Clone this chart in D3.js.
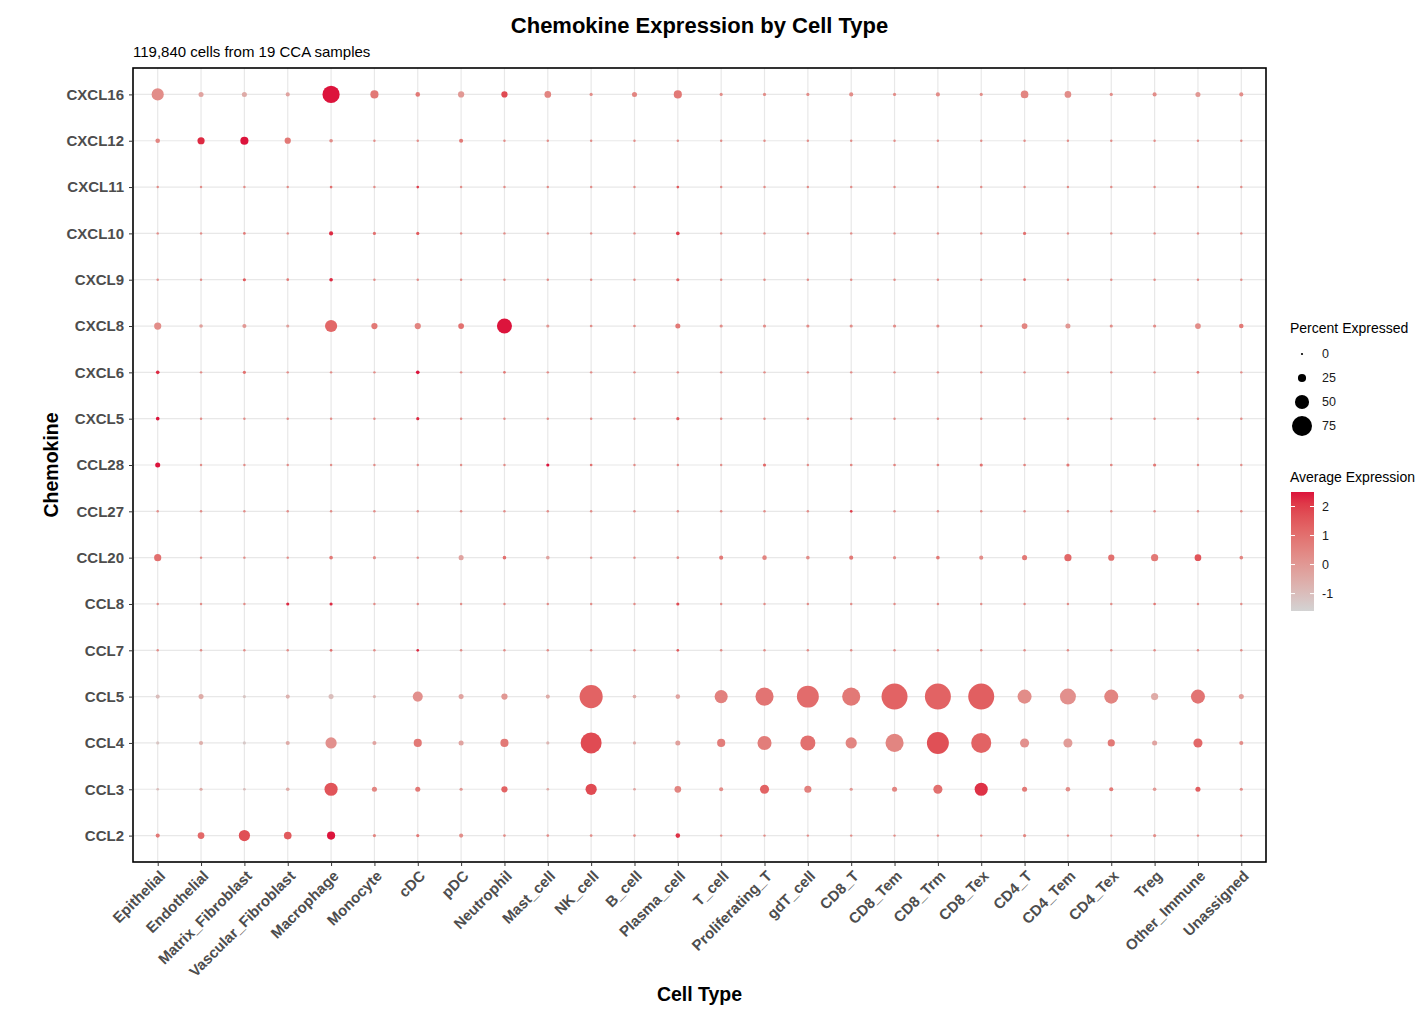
<!DOCTYPE html>
<head>
  <meta charset="utf-8">
  <script src="https://d3js.org/d3.v7.min.js"></script>
  <style>
    body { margin: 0; background: #fff; font-family: "Liberation Sans", Arial, sans-serif; }
  </style>
</head>
<body>
  <svg width="1419" height="1009"></svg>
  <script>
var cellTypes = ["Epithelial", "Endothelial", "Matrix_Fibroblast", "Vascular_Fibroblast", "Macrophage",
  "Monocyte", "cDC", "pDC", "Neutrophil", "Mast_cell", "NK_cell", "B_cell", "Plasma_cell", "T_cell",
  "Proliferating_T", "gdT_cell", "CD8_T", "CD8_Tem", "CD8_Trm", "CD8_Tex", "CD4_T", "CD4_Tem",
  "CD4_Tex", "Treg", "Other_Immune", "Unassigned"];

var chemokines = ["CXCL16", "CXCL12", "CXCL11", "CXCL10", "CXCL9", "CXCL8", "CXCL6", "CXCL5",
  "CCL28", "CCL27", "CCL20", "CCL8", "CCL7", "CCL5", "CCL4", "CCL3", "CCL2"];

// percent expressed, one row per chemokine (same order as chemokines), columns = cellTypes
var pctExpressed = [
  [42, 12, 12, 8, 63, 25, 10, 17, 17, 19, 4, 12, 25, 4, 4, 4, 8, 4, 8, 4, 23, 19, 4, 8, 12, 8],   // CXCL16
  [10, 21, 25, 17, 6, 1, 1, 8, 1, 1, 1, 1, 1, 1, 1, 1, 1, 1, 1, 1, 1, 1, 1, 1, 1, 1],             // CXCL12
  [1, 1, 1, 1, 2, 1, 2, 1, 1, 1, 1, 1, 2, 1, 1, 1, 1, 1, 1, 1, 1, 1, 1, 1, 1, 1],                 // CXCL11
  [1, 1, 2, 1, 8, 4, 4, 1, 1, 1, 1, 1, 6, 1, 1, 1, 1, 1, 1, 1, 4, 1, 1, 1, 1, 1],                 // CXCL10
  [1, 1, 4, 2, 6, 1, 1, 1, 1, 1, 1, 1, 4, 1, 1, 1, 1, 1, 1, 1, 2, 1, 1, 1, 1, 1],                 // CXCL9
  [21, 6, 8, 4, 42, 17, 17, 15, 54, 4, 2, 2, 12, 4, 4, 4, 4, 4, 4, 2, 15, 12, 4, 4, 15, 10],      // CXCL8
  [6, 1, 4, 1, 1, 1, 6, 1, 2, 1, 1, 1, 1, 1, 1, 1, 1, 1, 1, 1, 1, 1, 1, 1, 2, 1],                 // CXCL6
  [6, 1, 1, 1, 1, 1, 4, 1, 1, 1, 1, 1, 4, 1, 1, 1, 1, 1, 1, 1, 1, 1, 1, 1, 1, 1],                 // CXCL5
  [12, 1, 1, 1, 1, 1, 1, 1, 1, 4, 2, 1, 1, 1, 4, 1, 2, 2, 2, 4, 2, 4, 2, 4, 1, 1],                // CCL28
  [1, 1, 1, 1, 1, 1, 1, 1, 1, 1, 1, 1, 1, 1, 1, 1, 2, 1, 1, 1, 1, 1, 1, 1, 1, 1],                 // CCL27
  [21, 1, 1, 1, 6, 4, 1, 12, 6, 6, 1, 1, 2, 8, 10, 6, 8, 4, 6, 8, 12, 21, 17, 21, 19, 6],         // CCL20
  [1, 1, 1, 4, 4, 1, 1, 1, 1, 1, 1, 1, 4, 1, 1, 1, 1, 1, 1, 1, 1, 1, 1, 2, 1, 1],                 // CCL8
  [1, 1, 1, 1, 2, 1, 2, 1, 1, 1, 1, 1, 2, 1, 1, 1, 1, 1, 1, 1, 1, 1, 1, 1, 1, 1],                 // CCL7
  [8, 12, 4, 8, 12, 4, 33, 12, 17, 8, 88, 6, 10, 46, 67, 83, 67, 100, 100, 100, 50, 58, 50, 21, 50, 12], // CCL5
  [4, 8, 4, 8, 38, 8, 25, 12, 25, 4, 79, 4, 12, 25, 50, 54, 38, 67, 83, 75, 29, 29, 21, 12, 29, 8],     // CCL4
  [2, 4, 2, 6, 46, 12, 12, 4, 17, 2, 38, 2, 19, 8, 29, 21, 4, 12, 29, 46, 12, 10, 8, 6, 12, 4],         // CCL3
  [8, 19, 38, 23, 25, 4, 4, 8, 2, 2, 2, 2, 10, 1, 1, 1, 1, 1, 1, 1, 4, 1, 1, 4, 1, 1]                   // CCL2
];

// scaled average expression, same layout
var avgExpression = [
  [0.3, -0.3, -0.5, -0.3, 2.5, 0.8, 0.8, 0.0, 1.8, 0.5, 0.3, 0.5, 0.8, 0.3, 0.3, 0.3, 0.3, 0.3, 0.3, 0.3, 0.5, 0.3, 0.3, 0.3, 0.0, 0.3],
  [0.5, 2.3, 2.5, 0.8, 0.3, 0.3, 0.3, 0.8, 0.3, 0.3, 0.3, 0.3, 0.3, 0.3, 0.3, 0.3, 0.3, 0.3, 0.3, 0.3, 0.3, 0.3, 0.3, 0.3, 0.3, 0.3],
  [0.3, 0.3, 0.3, 0.3, 1.0, 0.3, 2.0, 0.3, 0.3, 0.3, 0.3, 0.3, 1.5, 0.3, 0.3, 0.3, 0.3, 0.3, 0.3, 0.3, 0.3, 0.3, 0.3, 0.3, 0.3, 0.3],
  [0.3, 0.3, 0.8, 0.3, 2.3, 1.0, 1.5, 0.3, 0.3, 0.3, 0.3, 0.3, 2.0, 0.3, 0.3, 0.3, 0.3, 0.3, 0.3, 0.3, 1.0, 0.3, 0.3, 0.3, 0.3, 0.3],
  [0.3, 0.3, 1.5, 0.8, 2.3, 0.3, 0.3, 0.3, 0.3, 0.3, 0.3, 0.3, 1.3, 0.3, 0.3, 0.3, 0.3, 0.3, 0.3, 0.3, 1.0, 0.3, 0.3, 0.3, 0.3, 0.3],
  [0.3, -0.2, 0.0, -0.2, 1.2, 0.8, 0.5, 1.0, 2.5, 0.0, 0.3, 0.3, 0.8, 0.3, 0.3, 0.3, 0.3, 0.3, 0.3, 0.3, 0.5, 0.0, 0.3, 0.3, 0.3, 0.8],
  [2.3, 0.3, 1.0, 0.3, 0.3, 0.3, 2.5, 0.3, 0.8, 0.3, 0.3, 0.3, 0.3, 0.3, 0.3, 0.3, 0.3, 0.3, 0.3, 0.3, 0.3, 0.3, 0.3, 0.3, 0.8, 0.3],
  [2.5, 0.3, 0.3, 0.3, 0.3, 0.3, 2.3, 0.3, 0.3, 0.3, 0.3, 0.3, 1.5, 0.3, 0.3, 0.3, 0.3, 0.3, 0.3, 0.3, 0.3, 0.3, 0.3, 0.3, 0.3, 0.3],
  [2.5, 0.3, 0.3, 0.3, 0.3, 0.3, 0.3, 0.3, 0.3, 2.5, 1.0, 0.3, 0.3, 0.3, 1.2, 0.3, 0.5, 0.5, 0.5, 1.0, 0.5, 0.8, 0.5, 0.8, 0.3, 0.3],
  [0.3, 0.3, 0.3, 0.3, 0.3, 0.3, 0.3, 0.3, 0.3, 0.3, 0.3, 0.3, 0.3, 0.3, 0.3, 0.3, 2.0, 0.3, 0.3, 0.3, 0.3, 0.3, 0.3, 0.3, 0.3, 0.3],
  [1.0, 0.3, 0.3, 0.3, 0.8, 0.3, 0.3, -0.3, 1.0, -0.3, 0.3, 0.3, 0.3, 0.8, 0.5, 0.3, 0.8, 0.3, 0.8, 0.3, 0.8, 1.2, 1.0, 0.8, 1.6, 0.5],
  [0.3, 0.3, 0.3, 2.3, 2.3, 0.3, 0.3, 0.3, 0.3, 0.3, 0.3, 0.3, 1.8, 0.3, 0.3, 0.3, 0.3, 0.3, 0.3, 0.3, 0.3, 0.3, 0.3, 0.8, 0.3, 0.3],
  [0.3, 0.3, 0.3, 0.3, 1.0, 0.3, 2.3, 0.3, 0.3, 0.3, 0.3, 0.3, 1.5, 0.3, 0.3, 0.3, 0.3, 0.3, 0.3, 0.3, 0.3, 0.3, 0.3, 0.3, 0.3, 0.3],
  [-1.0, -0.5, -1.2, -0.7, -1.0, -0.8, 0.2, -0.3, 0.0, -0.5, 1.3, -0.5, -0.3, 0.6, 0.9, 1.1, 0.8, 1.3, 1.3, 1.4, 0.3, 0.2, 0.5, -0.5, 0.9, -0.1],
  [-1.2, -0.6, -1.3, -0.5, 0.2, -0.3, 0.8, -0.3, 0.8, -0.8, 1.8, -0.5, -0.2, 0.7, 0.7, 1.0, 0.5, 0.5, 1.7, 1.3, 0.2, -0.1, 0.8, -0.3, 1.2, 0.3],
  [-1.0, -0.5, -1.0, -0.5, 1.6, 0.5, 0.8, 0.0, 1.3, -0.5, 1.8, -0.3, 0.5, 0.3, 1.3, 0.6, 0.0, 0.5, 1.0, 2.2, 0.8, 0.3, 0.8, 0.0, 1.4, 0.3],
  [0.8, 1.2, 1.7, 1.5, 2.5, 0.5, 0.8, 0.3, 0.3, 0.3, 0.3, 0.3, 2.2, 0.3, 0.3, 0.3, 0.3, 0.3, 0.3, 0.3, 0.5, 0.3, 0.3, 0.3, 0.3, 0.3]
];

var sizeBreaks = [0, 25, 50, 75];
var colorBreaks = [2, 1, 0, -1];
var expRange = [-1.6, 2.5];

var svg = d3.select("svg");
var panel = {left: 133, right: 1266, top: 68, bottom: 862};

var x = d3.scalePoint().domain(cellTypes).range([panel.left, panel.right]).padding(0.57);
var y = d3.scalePoint().domain(chemokines).range([panel.top, panel.bottom]).padding(0.57);
var r = d3.scaleLinear().domain([0, 100]).range([1.1, 13]);
var color = d3.scaleLinear().domain(expRange).range(["#D3D3D3", "#DC143C"])
    .interpolate(d3.interpolateLab).clamp(true);

var points = [];
chemokines.forEach(function(c, i) {
  cellTypes.forEach(function(t, j) {
    points.push({gene: c, cell: t, pct: pctExpressed[i][j], avg: avgExpression[i][j]});
  });
});

// grid
var g = svg.append("g");
g.selectAll(".vgrid").data(cellTypes).enter().append("line")
    .attr("x1", function(d) { return x(d); }).attr("x2", function(d) { return x(d); })
    .attr("y1", panel.top).attr("y2", panel.bottom)
    .attr("stroke", "#E8E8E8").attr("stroke-width", 1.2);
g.selectAll(".hgrid").data(chemokines).enter().append("line")
    .attr("y1", function(d) { return y(d); }).attr("y2", function(d) { return y(d); })
    .attr("x1", panel.left).attr("x2", panel.right)
    .attr("stroke", "#E8E8E8").attr("stroke-width", 1.2);

// dots
g.selectAll(".dot").data(points).enter().append("circle")
    .attr("cx", function(d) { return x(d.cell); })
    .attr("cy", function(d) { return y(d.gene); })
    .attr("r", function(d) { return r(d.pct); })
    .attr("fill", function(d) { return color(d.avg); });

// panel border
svg.append("rect")
    .attr("x", panel.left).attr("y", panel.top)
    .attr("width", panel.right - panel.left).attr("height", panel.bottom - panel.top)
    .attr("fill", "none").attr("stroke", "#000").attr("stroke-width", 1.6);

// axes
var yAxis = svg.append("g")
    .attr("transform", "translate(" + panel.left + ",0)")
    .call(d3.axisLeft(y).tickSize(4).tickPadding(5));
yAxis.select(".domain").remove();
yAxis.selectAll("line").attr("stroke", "#333");
yAxis.selectAll("text")
    .attr("fill", "#4D4D4D").style("font-size", "15px").style("font-weight", "bold")
    .style("font-family", "Liberation Sans, Arial, sans-serif");

var xAxis = svg.append("g")
    .attr("transform", "translate(0," + panel.bottom + ")")
    .call(d3.axisBottom(x).tickSize(4));
xAxis.select(".domain").remove();
xAxis.selectAll("line").attr("stroke", "#333");
xAxis.selectAll("text")
    .attr("fill", "#4D4D4D").style("font-size", "15px").style("font-weight", "bold")
    .style("font-family", "Liberation Sans, Arial, sans-serif")
    .attr("text-anchor", "end")
    .attr("y", 0).attr("dy", "0.75em")
    .attr("transform", "translate(0,7) rotate(-45)");

// titles
svg.append("text")
    .attr("x", (panel.left + panel.right) / 2).attr("y", 33)
    .attr("text-anchor", "middle")
    .style("font-size", "22px").style("font-weight", "bold")
    .text("Chemokine Expression by Cell Type");

svg.append("text")
    .attr("x", panel.left).attr("y", 57)
    .style("font-size", "15px")
    .text("119,840 cells from 19 CCA samples");

svg.append("text")
    .attr("x", (panel.left + panel.right) / 2).attr("y", 1001)
    .attr("text-anchor", "middle")
    .style("font-size", "19.5px").style("font-weight", "bold")
    .text("Cell Type");

svg.append("text")
    .attr("transform", "translate(58," + ((panel.top + panel.bottom) / 2) + ") rotate(-90)")
    .attr("text-anchor", "middle")
    .style("font-size", "19.5px").style("font-weight", "bold")
    .text("Chemokine");

// size legend
var sl = svg.append("g").attr("transform", "translate(1290,0)");
sl.append("text").attr("x", 0).attr("y", 333)
    .style("font-size", "14px").text("Percent Expressed");
sl.selectAll(".sdot").data(sizeBreaks).enter().append("circle")
    .attr("cx", 12).attr("cy", function(d, i) { return 354 + i * 24; })
    .attr("r", function(d) { return r(d); })
    .attr("fill", "#000");
sl.selectAll(".slab").data(sizeBreaks).enter().append("text")
    .attr("x", 32).attr("y", function(d, i) { return 354 + i * 24; })
    .attr("dy", "0.35em").style("font-size", "12.5px").attr("fill", "#1a1a1a")
    .text(function(d) { return d; });

// colour legend
var cl = svg.append("g").attr("transform", "translate(1290,0)");
cl.append("text").attr("x", 0).attr("y", 482)
    .style("font-size", "14px").text("Average Expression");

var barY = d3.scaleLinear().domain(expRange).range([611, 492]);
var defs = svg.append("defs");
var grad = defs.append("linearGradient").attr("id", "expGrad")
    .attr("x1", "0").attr("y1", "1").attr("x2", "0").attr("y2", "0");
d3.range(0, 1.0001, 0.1).forEach(function(t) {
  grad.append("stop").attr("offset", t)
      .attr("stop-color", color(expRange[0] + t * (expRange[1] - expRange[0])));
});
cl.append("rect").attr("x", 1).attr("y", 492).attr("width", 23).attr("height", 119)
    .attr("fill", "url(#expGrad)");
colorBreaks.forEach(function(v) {
  cl.append("line").attr("x1", 1).attr("x2", 5).attr("y1", barY(v)).attr("y2", barY(v))
      .attr("stroke", "#fff").attr("stroke-width", 1);
  cl.append("line").attr("x1", 20).attr("x2", 24).attr("y1", barY(v)).attr("y2", barY(v))
      .attr("stroke", "#fff").attr("stroke-width", 1);
});
cl.selectAll(".clab").data(colorBreaks).enter().append("text")
    .attr("x", 32).attr("y", function(d) { return barY(d); })
    .attr("dy", "0.35em").style("font-size", "12.5px").attr("fill", "#1a1a1a")
    .text(function(d) { return d; });
  </script>
</body>
